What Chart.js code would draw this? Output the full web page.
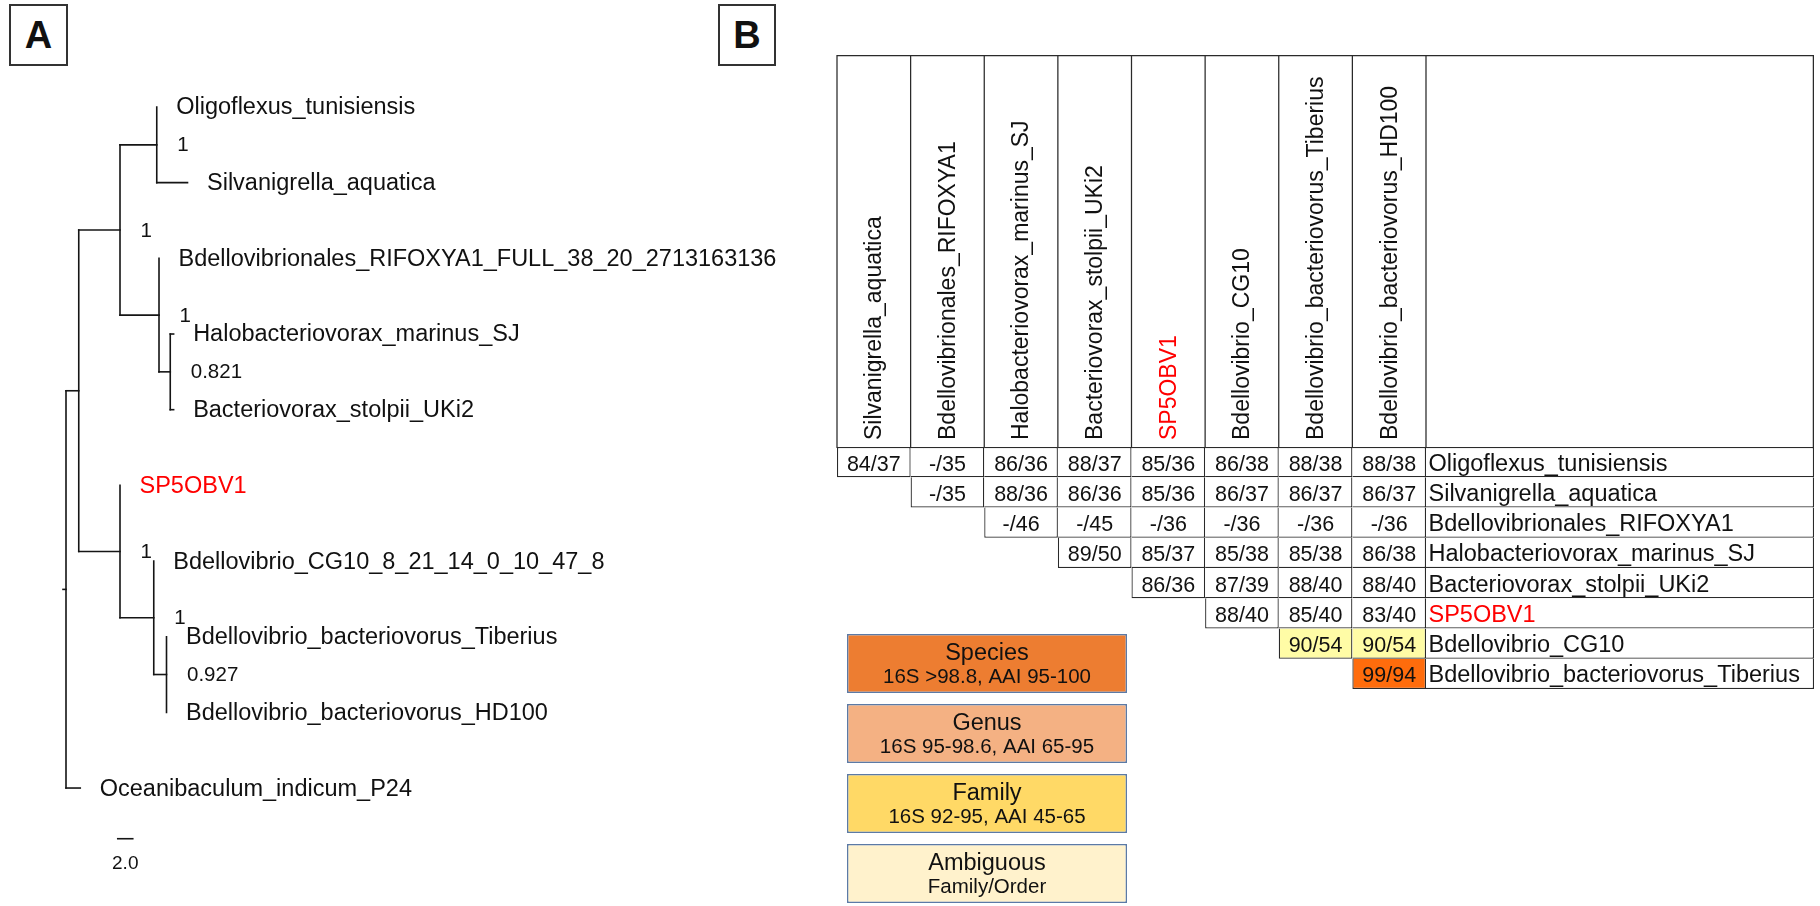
<!DOCTYPE html>
<html lang="en">
<head>
<meta charset="utf-8">
<title>Bdellovibrionota phylogeny and pairwise identity</title>
<script src="https://cdn.jsdelivr.net/npm/chart.js@4.4.1/dist/chart.umd.min.js"></script>
<style>
  html, body { margin:0; padding:0; width:1820px; height:906px; overflow:hidden; background:#fff; }
  .panel-tag { position:absolute; box-sizing:border-box; border:2px solid #333; display:flex;
               align-items:center; justify-content:center; color:#111;
               font:bold 38px 'Liberation Sans', Arial, Helvetica, sans-serif; }
  .frame { position:absolute; }
</style>
</head>
<body>
<div class="panel-tag" style="left:9px;top:4px;width:59px;height:62px;">A</div>
<div class="panel-tag" style="left:718px;top:4px;width:58px;height:62px;">B</div>
<div class="frame" style="left:0;top:0;width:820px;height:906px;"><canvas id="treeChart"></canvas></div>
<div class="frame" style="left:827px;top:45px;width:993px;height:660px;"><canvas id="matrixChart"></canvas></div>
<div class="frame" style="left:840px;top:620px;width:300px;height:300px;"><canvas id="rankChart"></canvas></div>

<script>
// ---------------- Panel A: tree (child, parent, branch length) ----------------
const edgeChild  = ['n1', 'Oceanibaculum_indicum_P24',
                    'n2', 'n6',
                    'n3', 'n4',
                    'Oligoflexus_tunisiensis', 'Silvanigrella_aquatica',
                    'Bdellovibrionales_RIFOXYA1_FULL_38_20_2713163136', 'n5',
                    'Halobacteriovorax_marinus_SJ', 'Bacteriovorax_stolpii_UKi2',
                    'SP5OBV1', 'n7',
                    'Bdellovibrio_CG10_8_21_14_0_10_47_8', 'n8',
                    'Bdellovibrio_bacteriovorus_Tiberius', 'Bdellovibrio_bacteriovorus_HD100'];
const edgeParent = ['root', 'root', 'n1', 'n1', 'n2', 'n2', 'n3', 'n3', 'n4', 'n4',
                    'n5', 'n5', 'n6', 'n6', 'n7', 'n7', 'n8', 'n8'];
const edgeLength = [1.7, 1.9, 5.5, 5.5, 4.9, 5.2, 0, 4.1, 0, 1.5,
                    0.45, 0.45, 0, 4.5, 0, 1.7, 0, 0];
// branch support
const supportNode  = ['n2', 'n3', 'n4', 'n5', 'n6', 'n7', 'n8'];
const supportValue = ['1', '1', '1', '0.821', '1', '1', '0.927'];
const scaleBarLength = 2.0;
const focalTaxon = 'SP5OBV1';

// ---------------- Panel B: pairwise identity matrix ----------------
const rowTaxa = ['Oligoflexus_tunisiensis', 'Silvanigrella_aquatica', 'Bdellovibrionales_RIFOXYA1',
                 'Halobacteriovorax_marinus_SJ', 'Bacteriovorax_stolpii_UKi2', 'SP5OBV1',
                 'Bdellovibrio_CG10', 'Bdellovibrio_bacteriovorus_Tiberius'];
const colTaxa = ['Silvanigrella_aquatica', 'Bdellovibrionales_RIFOXYA1', 'Halobacteriovorax_marinus_SJ',
                 'Bacteriovorax_stolpii_UKi2', 'SP5OBV1', 'Bdellovibrio_CG10',
                 'Bdellovibrio_bacteriovorus_Tiberius', 'Bdellovibrio_bacteriovorus_HD100'];
// each row starts at the column with the same index; null = no 16S sequence
const identity16S = [
  [84, null, 86, 88, 85, 86, 88, 88],
  [null, 88, 86, 85, 86, 86, 86],
  [null, null, null, null, null, null],
  [89, 85, 85, 85, 86],
  [86, 87, 88, 88],
  [88, 85, 83],
  [90, 90],
  [99]
];
const identityAAI = [
  [37, 35, 36, 37, 36, 38, 38, 38],
  [35, 36, 36, 36, 37, 37, 37],
  [46, 45, 36, 36, 36, 36],
  [50, 37, 38, 38, 38],
  [36, 39, 40, 40],
  [40, 40, 40],
  [54, 54],
  [94]
];
// cells flagged with a taxonomic rank
const flaggedRow  = [6, 6, 7];
const flaggedCol  = [6, 7, 7];
const flaggedRank = ['family', 'family', 'species'];

// rank key
const rankTitle    = ['Species', 'Genus', 'Family', 'Ambiguous'];
const rankCriteria = ['16S >98.8, AAI 95-100', '16S 95-98.6, AAI 65-95', '16S 92-95, AAI 45-65', 'Family/Order'];

// ---------------- styling ----------------
const FONT = "'Liberation Sans', Arial, Helvetica, sans-serif";
const INK = '#111';
const FOCAL_INK = '#ff0000';
const LINE = '#2a2a2a';
const flagFill = { family: '#fffca6', species: '#ff6c0c' };
const keyFill = ['#ed7d31', '#f4b183', '#ffd966', '#fff2cc'];
Chart.defaults.font.family = FONT;
Chart.defaults.color = INK;

// ---------------- tree layout ----------------
const kids = {};
edgeChild.forEach((c, i) => { (kids[edgeParent[i]] = kids[edgeParent[i]] || []).push(c); });
const depth = { root: 0 };
const row = {};
(function walk(n) {
  (kids[n] || []).forEach(c => { depth[c] = depth[n] + edgeLength[edgeChild.indexOf(c)]; walk(c); });
})('root');
let nextTip = 0;
(function stack(n) {
  const ch = kids[n];
  if (!ch) { row[n] = nextTip++; return; }
  ch.forEach(stack);
  row[n] = (row[ch[0]] + row[ch[ch.length - 1]]) / 2;
})('root');
const tips = edgeChild.filter(n => !kids[n]).sort((a, b) => row[a] - row[b]);

const branches = [];
edgeChild.forEach((c, i) => {
  if (edgeLength[i] > 0) branches.push([{ x: depth[edgeParent[i]], y: row[c] }, { x: depth[c], y: row[c] }]);
});
Object.keys(kids).forEach(n => {
  const ch = kids[n];
  branches.push([{ x: depth[n], y: row[ch[0]] }, { x: depth[n], y: row[ch[ch.length - 1]] }]);
});
branches.push([{ x: -0.4, y: row.root }, { x: 0, y: row.root }]);
const barX0 = 6.9;
const barRow = nextTip - 1 + 0.67;
branches.push([{ x: barX0, y: barRow }, { x: barX0 + scaleBarLength, y: barRow }]);

const treeLabels = {
  id: 'treeLabels',
  afterDatasetsDraw(chart) {
    const { ctx, scales: { x, y } } = chart;
    ctx.save();
    ctx.textBaseline = 'middle';
    ctx.textAlign = 'left';
    ctx.font = '23.5px ' + FONT;
    tips.forEach(t => {
      ctx.fillStyle = t === focalTaxon ? FOCAL_INK : INK;
      ctx.fillText(t, x.getPixelForValue(depth[t]) + 19.5, y.getPixelForValue(row[t]) + 1);
    });
    ctx.fillStyle = INK;
    ctx.font = '20.5px ' + FONT;
    supportNode.forEach((n, i) => {
      ctx.fillText(supportValue[i], x.getPixelForValue(depth[n]) + 20.5, y.getPixelForValue(row[n]) + 1);
    });
    ctx.font = '19px ' + FONT;
    ctx.textAlign = 'center';
    ctx.fillText(scaleBarLength.toFixed(1), x.getPixelForValue(barX0 + scaleBarLength / 2), y.getPixelForValue(barRow + 0.33));
    ctx.restore();
  }
};

new Chart(document.getElementById('treeChart'), {
  type: 'scatter',
  data: {
    datasets: branches.map(pts => ({
      data: pts, showLine: true, borderColor: '#151515', borderWidth: 1.6,
      pointRadius: 0, borderCapStyle: 'square', tension: 0
    }))
  },
  options: {
    animation: false, responsive: true, maintainAspectRatio: false, events: [],
    layout: { padding: 0 },
    plugins: { legend: { display: false }, tooltip: { enabled: false } },
    scales: {
      x: { type: 'linear', min: -8.8, max: 100.53, display: false },
      y: { type: 'linear', min: -1.414, max: 10.559, reverse: true, display: false }
    }
  },
  plugins: [treeLabels]
});

// ---------------- matrix ----------------
const nCols = colTaxa.length;
const nameSpan = 5.27;
const HEADER_H = 392;
const GRID_W = 1.25;

function cellRank(r, c) {
  for (let i = 0; i < flaggedRow.length; i++) if (flaggedRow[i] === r && flaggedCol[i] === c) return flaggedRank[i];
  return null;
}
function cellText(r, c) {
  const s = identity16S[r][c - r];
  return (s === null ? '-' : String(s)) + '/' + identityAAI[r][c - r];
}

const matrixSets = [];
for (let c = 0; c < nCols; c++) {
  matrixSets.push({
    data: rowTaxa.map((_, r) => (c >= r ? [c, c + 1] : null)),
    backgroundColor: rowTaxa.map((_, r) => { const k = cellRank(r, c); return k ? flagFill[k] : '#ffffff'; })
  });
}
matrixSets.push({
  data: rowTaxa.map(() => [nCols, nCols + nameSpan]),
  backgroundColor: '#ffffff'
});

const matrixText = {
  id: 'matrixText',
  afterDatasetsDraw(chart) {
    const { ctx, chartArea, scales: { x } } = chart;
    ctx.save();
    // header cells
    const top = chartArea.top - HEADER_H;
    ctx.strokeStyle = LINE;
    ctx.lineWidth = GRID_W;
    ctx.beginPath();
    ctx.moveTo(x.getPixelForValue(0), top + 0.5);
    ctx.lineTo(x.getPixelForValue(x.max), top + 0.5);
    const edges = [];
    for (let c = 0; c <= nCols; c++) edges.push(c);
    edges.push(x.max);
    edges.forEach(v => {
      const px = Math.min(x.getPixelForValue(v), chartArea.right - GRID_W / 2);
      ctx.moveTo(px, top);
      ctx.lineTo(px, chartArea.top + 1);
    });
    ctx.stroke();
    ctx.font = '23px ' + FONT;
    ctx.textAlign = 'left';
    ctx.textBaseline = 'middle';
    colTaxa.forEach((name, c) => {
      ctx.save();
      ctx.translate(x.getPixelForValue(c + 0.5) + 1, chartArea.top - 7);
      ctx.rotate(-Math.PI / 2);
      ctx.fillStyle = name === focalTaxon ? FOCAL_INK : INK;
      ctx.fillText(name, 0, 0);
      ctx.restore();
    });
    // cell values
    ctx.font = '21.5px ' + FONT;
    ctx.textAlign = 'center';
    ctx.fillStyle = INK;
    for (let c = 0; c < nCols; c++) {
      chart.getDatasetMeta(c).data.forEach((el, r) => {
        if (c < r) return;
        ctx.fillText(cellText(r, c), (el.x + el.base) / 2, el.y + 2.5);
      });
    }
    // row names
    ctx.font = '23.5px ' + FONT;
    ctx.textAlign = 'left';
    chart.getDatasetMeta(nCols).data.forEach((el, r) => {
      ctx.fillStyle = rowTaxa[r] === focalTaxon ? FOCAL_INK : INK;
      ctx.fillText(rowTaxa[r], el.base + 2.5, el.y + 2);
    });
    ctx.restore();
  }
};

new Chart(document.getElementById('matrixChart'), {
  type: 'bar',
  data: { labels: rowTaxa, datasets: matrixSets },
  options: {
    indexAxis: 'y',
    animation: false, responsive: true, maintainAspectRatio: false, events: [],
    layout: { padding: { left: 10, right: 6, top: 10 + HEADER_H, bottom: 16 } },
    plugins: { legend: { display: false }, tooltip: { enabled: false } },
    datasets: {
      bar: {
        grouped: false, categoryPercentage: 1, barPercentage: 1,
        borderSkipped: false, borderColor: LINE, inflateAmount: 0,
        borderWidth: ctx => ({
          top: ctx.dataIndex === 0 ? GRID_W : 0,
          right: GRID_W,
          bottom: GRID_W,
          left: ctx.datasetIndex === ctx.dataIndex ? GRID_W : 0
        })
      }
    },
    scales: {
      x: { type: 'linear', min: 0, max: nCols + nameSpan, display: false },
      y: { display: false }
    }
  },
  plugins: [matrixText]
});

// ---------------- rank key ----------------
const keyText = {
  id: 'keyText',
  afterDatasetsDraw(chart) {
    const { ctx } = chart;
    ctx.save();
    ctx.fillStyle = INK;
    ctx.textAlign = 'center';
    ctx.textBaseline = 'middle';
    chart.getDatasetMeta(0).data.forEach((el, i) => {
      const cx = (el.x + el.base) / 2;
      ctx.font = '23.5px ' + FONT;
      ctx.fillText(rankTitle[i], cx, el.y - 10);
      ctx.font = '20.5px ' + FONT;
      ctx.fillText(rankCriteria[i], cx, el.y + 14);
    });
    ctx.restore();
  }
};

new Chart(document.getElementById('rankChart'), {
  type: 'bar',
  data: {
    labels: rankTitle,
    datasets: [{
      data: rankTitle.map(() => [0, 1]),
      backgroundColor: keyFill,
      borderColor: '#5b7aa6',
      borderWidth: 1.5,
      borderSkipped: false,
      categoryPercentage: 1,
      barPercentage: 0.843
    }]
  },
  options: {
    indexAxis: 'y',
    animation: false, responsive: true, maintainAspectRatio: false, events: [],
    layout: { padding: { left: 7, right: 13, top: 8.5, bottom: 11.5 } },
    plugins: { legend: { display: false }, tooltip: { enabled: false } },
    scales: {
      x: { type: 'linear', min: 0, max: 1, display: false },
      y: { display: false }
    }
  },
  plugins: [keyText]
});
</script>
</body>
</html>
